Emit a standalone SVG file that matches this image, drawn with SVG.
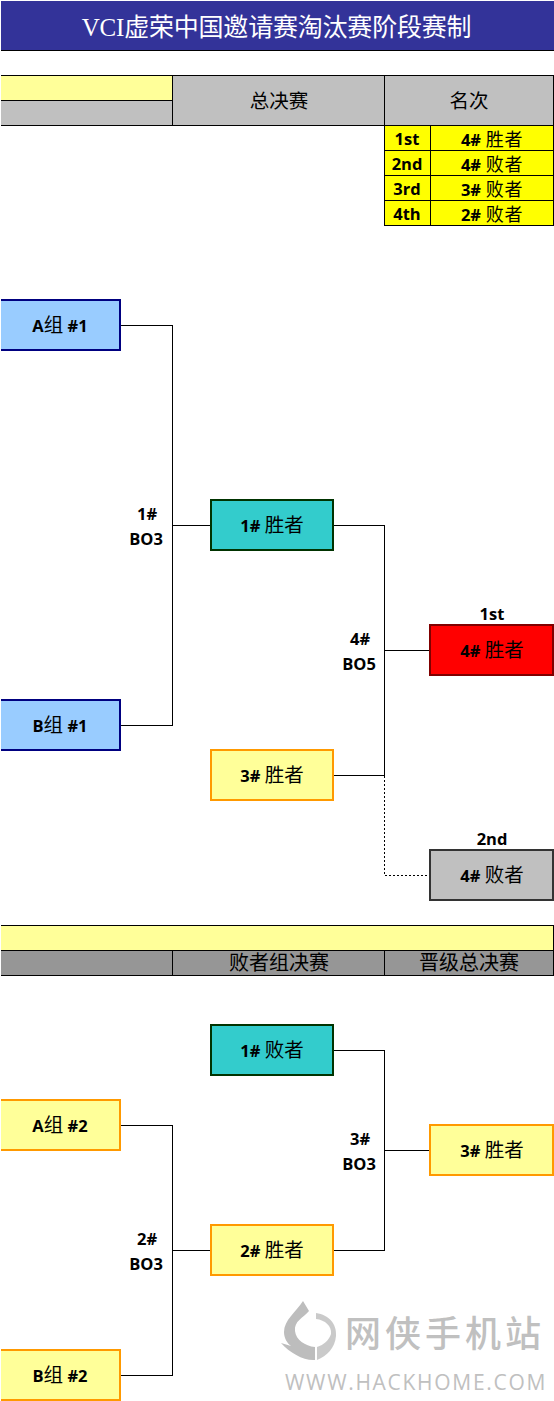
<svg xmlns="http://www.w3.org/2000/svg" width="554" height="1401" viewBox="0 0 554 1401">
<style>
text{font-family:"Noto Sans CJK SC","Noto Sans",sans-serif;fill:#000;text-anchor:middle}
.l{font-family:"Open Sans","Noto Sans CJK SC",sans-serif;font-size:16.500px;font-weight:700}
.c{font-family:"Noto Sans CJK SC",sans-serif;font-size:19.500px;font-weight:400}
.n{font-size:19.500px;font-weight:400}
.n .b{font-family:"Open Sans","Noto Sans CJK SC",sans-serif;font-size:16.500px;font-weight:700}
.r{font-size:18px;font-weight:400;letter-spacing:0.700px}
.r .b{font-family:"Open Sans","Noto Sans CJK SC",sans-serif;font-size:16.500px;font-weight:700;letter-spacing:0}
.cell{stroke:#000;stroke-width:1}
.box{stroke-width:2}
.line{fill:none;stroke:#000;stroke-width:1;shape-rendering:crispEdges}
.blue{fill:#99ccff;stroke:#000080}
.teal{fill:#33cccc;stroke:#003300}
.pale{fill:#ffff99;stroke:#ff9900}
.red{fill:#ff0000;stroke:#800000}
.gray{fill:#c0c0c0;stroke:#333333}
.y{fill:#ffff00}
.wm{fill:#bdbdbd}
</style>
<g id="title">
<rect x="1" y="1" width="553" height="49.500" fill="#333399" stroke="none"/>
<path d="M1 50.500H554" stroke="#000" stroke-width="1"/>
<text x="276.500" y="36" style="font-family:'Liberation Serif','Noto Sans CJK SC',serif;font-size:25px;fill:#fff;letter-spacing:-0.200px">VCI虚荣中国邀请赛淘汰赛阶段赛制</text>
</g>
<g id="header-final">
<rect class="cell" x="-5" y="75.500" width="177.500" height="25" fill="#ffff99"/>
<rect class="cell" x="-5" y="100.500" width="177.500" height="25" fill="#c0c0c0"/>
<rect class="cell" x="172.500" y="75.500" width="212" height="50" fill="#c0c0c0"/>
<rect class="cell" x="384.500" y="75.500" width="169" height="50" fill="#c0c0c0"/>
<text class="c" x="279" y="108">总决赛</text>
<text class="c" x="469" y="108">名次</text>
</g>
<g id="ranking">
<rect class="cell y" x="384.500" y="125.500" width="46" height="25"/><rect class="cell y" x="430.500" y="125.500" width="123" height="25"/>
<rect class="cell y" x="384.500" y="150.500" width="46" height="25"/><rect class="cell y" x="430.500" y="150.500" width="123" height="25"/>
<rect class="cell y" x="384.500" y="175.500" width="46" height="25"/><rect class="cell y" x="430.500" y="175.500" width="123" height="25"/>
<rect class="cell y" x="384.500" y="200.500" width="46" height="25"/><rect class="cell y" x="430.500" y="200.500" width="123" height="25"/>
<text class="l" x="407" y="145">1st</text><text class="l" x="407" y="170">2nd</text><text class="l" x="407" y="195">3rd</text><text class="l" x="407" y="220">4th</text>
<text class="r" x="492" y="145.500"><tspan class="b">4#</tspan> 胜者</text>
<text class="r" x="492" y="170.500"><tspan class="b">4#</tspan> 败者</text>
<text class="r" x="492" y="195.500"><tspan class="b">3#</tspan> 败者</text>
<text class="r" x="492" y="220.500"><tspan class="b">2#</tspan> 败者</text>
</g>
<g id="connectors">
<path class="line" d="M121 325.500H172.500V725.500H121M172.500 525.500H211"/>
<path class="line" d="M334 525.500H384.500V775.500H334M384.500 650.500H430"/>
<path class="line" d="M384.500 776V875.500H430" stroke-dasharray="2 2"/>
<path class="line" d="M121 1125.500H172.500V1375.500H121M172.500 1250.500H211"/>
<path class="line" d="M334 1050.500H384.500V1250.500H334M384.500 1150.500H430"/>
</g>
<g id="node-a1"><rect class="box blue" x="-5" y="300" width="125" height="50"/><text class="n" x="60" y="332"><tspan class="b">A</tspan>组 <tspan class="b">#1</tspan></text></g>
<g id="node-b1"><rect class="box blue" x="-5" y="700" width="125" height="50"/><text class="n" x="60" y="732"><tspan class="b">B</tspan>组 <tspan class="b">#1</tspan></text></g>
<g id="node-w1"><rect class="box teal" x="211" y="500" width="122" height="50"/><text class="n" x="272" y="532"><tspan class="b">1#</tspan> 胜者</text></g>
<g id="node-w3"><rect class="box pale" x="211" y="750" width="122" height="50"/><text class="n" x="272" y="782"><tspan class="b">3#</tspan> 胜者</text></g>
<g id="node-champ"><rect class="box red" x="430" y="625" width="123" height="50"/><text class="n" x="492" y="657"><tspan class="b">4#</tspan> 胜者</text></g>
<g id="node-second"><rect class="box gray" x="430" y="850" width="123" height="50"/><text class="n" x="492" y="882"><tspan class="b">4#</tspan> 败者</text></g>
<g id="labels">
<text class="l" x="147" y="520">1#</text><text class="l" x="146" y="545">BO3</text>
<text class="l" x="360" y="645">4#</text><text class="l" x="359" y="670">BO5</text>
<text class="l" x="492" y="620">1st</text><text class="l" x="492" y="845">2nd</text>
<text class="l" x="147" y="1245">2#</text><text class="l" x="146" y="1270">BO3</text>
<text class="l" x="360" y="1145">3#</text><text class="l" x="359" y="1170">BO3</text>
</g>
<g id="header-losers">
<rect class="cell" x="-5" y="925.500" width="558.500" height="25" fill="#ffff99"/>
<rect class="cell" x="-5" y="950.500" width="177.500" height="25" fill="#969696"/>
<rect class="cell" x="172.500" y="950.500" width="212" height="25" fill="#969696"/>
<rect class="cell" x="384.500" y="950.500" width="169" height="25" fill="#969696"/>
<text class="c" x="279" y="970" style="font-size:20px">败者组决赛</text>
<text class="c" x="469" y="970" style="font-size:20px">晋级总决赛</text>
</g>
<g id="node-l1"><rect class="box teal" x="211" y="1025" width="122" height="50"/><text class="n" x="272" y="1057"><tspan class="b">1#</tspan> 败者</text></g>
<g id="node-a2"><rect class="box pale" x="-5" y="1100" width="125" height="50"/><text class="n" x="60" y="1132"><tspan class="b">A</tspan>组 <tspan class="b">#2</tspan></text></g>
<g id="node-w2"><rect class="box pale" x="211" y="1225" width="122" height="50"/><text class="n" x="272" y="1257"><tspan class="b">2#</tspan> 胜者</text></g>
<g id="node-b2"><rect class="box pale" x="-5" y="1350" width="125" height="50"/><text class="n" x="60" y="1382"><tspan class="b">B</tspan>组 <tspan class="b">#2</tspan></text></g>
<g id="node-w3b"><rect class="box pale" x="430" y="1125" width="123" height="50"/><text class="n" x="492" y="1157"><tspan class="b">3#</tspan> 胜者</text></g>
<g id="watermark">
<path class="wm" d="M303 1301C296 1312 284 1320 284 1332C284 1338 287 1343 291 1346L281 1343C290 1353 304 1361 315 1360V1347C305 1346 296 1340 295 1331C294 1321 303 1318 309 1311Z"/>
<path class="wm" d="M316 1313C329 1315 337 1324 336 1336C335 1348 327 1356 317 1360V1347C324 1345 329 1340 331 1334C332 1326 325 1320 316 1319Z" opacity="0.800"/>
<text x="445" y="1347" style="font-size:36px;fill:#c0c0c0;letter-spacing:4px;font-weight:500">网侠手机站</text>
<text x="416" y="1390" style="font-family:'Open Sans',sans-serif;font-size:21px;fill:#c0c0c0;letter-spacing:1.700px">WWW.HACKHOME.COM</text>
</g>
<rect id="left-margin" x="0" y="0" width="1" height="1401" fill="#fff"/>
</svg>
